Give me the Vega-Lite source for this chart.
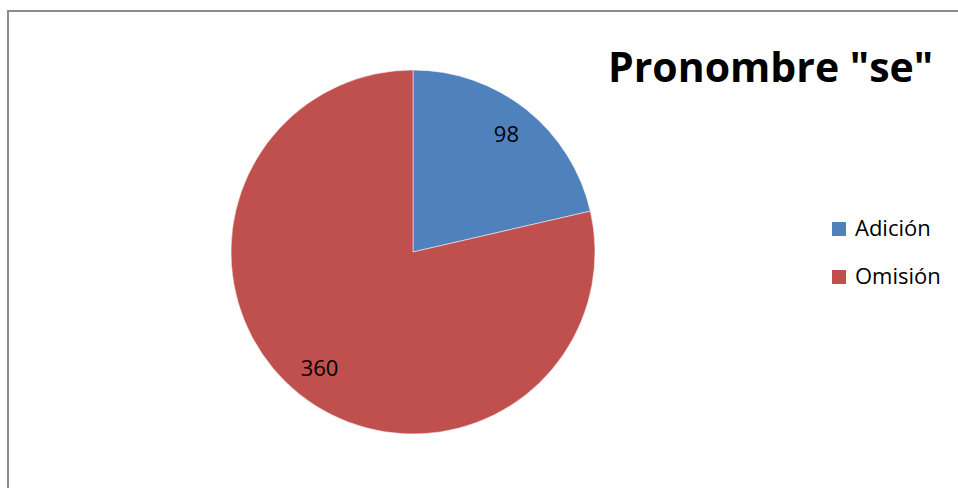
{
  "$schema": "https://vega.github.io/schema/vega-lite/v6.json",
  "width": 810,
  "height": 482,
  "autosize": {"type": "none"},
  "padding": {"left": 8, "top": 11, "right": 140, "bottom": 0},
  "background": "white",
  "config": {
    "font": "Open Sans",
    "view": {"stroke": null}
  },
  "title": {
    "text": "Pronombre \"se\"",
    "anchor": "start",
    "frame": "group",
    "font": "Open Sans",
    "fontSize": 41,
    "fontWeight": "bold",
    "color": "black",
    "offset": 0,
    "baseline": "alphabetic",
    "limit": 0,
    "dx": 600,
    "dy": 113
  },
  "layer": [
    {
      "data": {"values": [{"marco": "borde"}]},
      "mark": {"type": "rect", "fill": null, "stroke": "#8c8c8c", "strokeWidth": 2, "width": {"expr": "width + 160"}, "xOffset": {"expr": "80 - width / 2"}, "strokeDash": [970, 1452]},
      "encoding": {}
    },
    {
      "data": {
        "values": [
          {"categoria": "Adición", "valor": 98, "orden": 1},
          {"categoria": "Omisión", "valor": 360, "orden": 2}
        ]
      },
      "encoding": {
        "theta": {"field": "valor", "type": "quantitative", "stack": true},
        "order": {"field": "orden", "type": "quantitative"}
      },
      "layer": [
        {
          "mark": {"type": "arc", "outerRadius": 182, "stroke": "white", "strokeWidth": 0.5},
          "encoding": {
            "color": {
              "field": "categoria",
              "type": "nominal",
              "scale": {"domain": ["Adición", "Omisión"], "range": ["#4F81BD", "#C0504D"]},
              "legend": {
                "title": null,
                "orient": "none",
                "legendX": 820,
                "legendY": 207,
                "symbolType": "square",
                "symbolSize": 196,
                "symbolStrokeWidth": 0,
                "labelFont": "Open Sans",
                "labelFontSize": 22,
                "labelColor": "black",
                "labelOffset": 5,
                "rowPadding": 26,
                "padding": 0
              }
            }
          }
        },
        {
          "mark": {"type": "text", "radius": 150, "font": "Open Sans", "fontSize": 22, "color": "black"},
          "encoding": {
            "text": {"field": "valor", "type": "quantitative"}
          }
        }
      ]
    }
  ]
}
